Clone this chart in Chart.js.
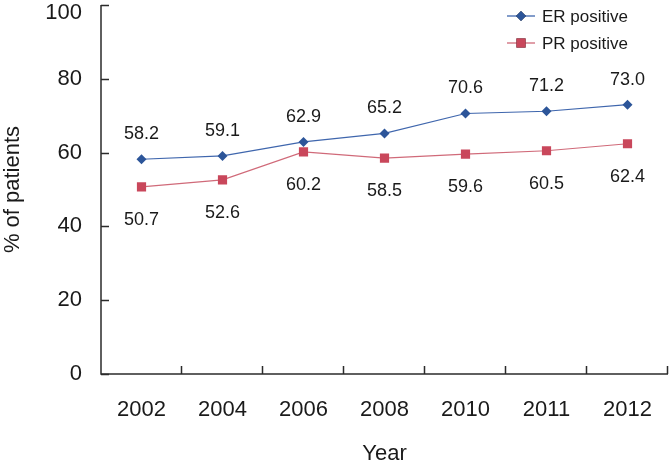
<!DOCTYPE html>
<html>
<head>
<meta charset="utf-8">
<script src="https://cdn.jsdelivr.net/npm/chart.js@4/dist/chart.umd.min.js"></script>
<style>
html,body{margin:0;padding:0;background:#fff;}
#wrap{width:669px;height:463px;position:relative;}
</style>
</head>
<body>
<div id="wrap"><canvas id="c" width="669" height="463"></canvas></div>
<script>
const years = ['2002','2004','2006','2008','2010','2011','2012'];
const erPositive = [58.2, 59.1, 62.9, 65.2, 70.6, 71.2, 73.0];
const prPositive = [50.7, 52.6, 60.2, 58.5, 59.6, 60.5, 62.4];
const seriesNames = ['ER positive', 'PR positive'];
const yTicks = [0, 20, 40, 60, 80, 100];

const FONT = "'Liberation Sans', Arial, sans-serif";
const AXIS = '#2b2b2b';
const TEXT = '#1a1a1a';

const frame = {
  id: 'frame',
  afterDatasetsDraw(chart) {
    const ctx = chart.ctx;
    const x = chart.scales.x, y = chart.scales.y;
    const a = chart.chartArea;
    ctx.save();
    ctx.strokeStyle = AXIS;
    ctx.lineWidth = 1.5;
    ctx.beginPath();
    ctx.moveTo(a.left, a.top);
    ctx.lineTo(a.left, a.bottom);
    ctx.lineTo(a.right, a.bottom);
    ctx.stroke();
    ctx.beginPath();
    yTicks.forEach(v => {
      const py = Math.round(y.getPixelForValue(v)) + 0.5;
      ctx.moveTo(a.left, py);
      ctx.lineTo(a.left + 8, py);
    });
    for (let i = 0; i < years.length; i++) {
      const px = Math.round(x.getPixelForValue(i + 0.5)) - 0.5;
      ctx.moveTo(px, a.bottom);
      ctx.lineTo(px, a.bottom - 8);
    }
    ctx.stroke();
    ctx.fillStyle = TEXT;
    ctx.font = '22px ' + FONT;
    ctx.textAlign = 'right';
    ctx.textBaseline = 'middle';
    yTicks.forEach(v => {
      let py = y.getPixelForValue(v);
      py = Math.max(py, 13);
      ctx.fillText(String(v), a.left - 19, py);
    });
    ctx.font = '18px ' + FONT;
    ctx.textAlign = 'center';
    ctx.textBaseline = 'middle';
    chart.data.datasets.forEach((ds, di) => {
      const meta = chart.getDatasetMeta(di);
      meta.data.forEach((pt, i) => {
        const off = di === 0 ? -25 : 33;
        ctx.fillText(ds.data[i].toFixed(1), pt.x, pt.y + off);
      });
    });
    ctx.font = '17px ' + FONT;
    ctx.textAlign = 'left';
    chart.data.datasets.forEach((ds, di) => {
      const ly = 16 + di * 27;
      const lx0 = a.right - 161;
      ctx.strokeStyle = ds.borderColor;
      ctx.lineWidth = 1.3;
      ctx.beginPath();
      ctx.moveTo(lx0, ly);
      ctx.lineTo(lx0 + 28, ly);
      ctx.stroke();
      Chart.helpers.drawPoint(ctx, {
        pointStyle: ds.pointStyle,
        radius: ds.pointRadius,
        borderWidth: 0,
        rotation: 0
      }, lx0 + 14, ly);
      ctx.fillStyle = ds.pointBackgroundColor;
      ctx.fill();
      ctx.fillStyle = TEXT;
      ctx.fillText(ds.label, lx0 + 35, ly + 1);
    });
    ctx.restore();
  }
};

new Chart(document.getElementById('c'), {
  type: 'line',
  data: {
    labels: years,
    datasets: [
      {
        label: seriesNames[0],
        data: erPositive,
        borderColor: '#3f66ad',
        borderWidth: 1.2,
        pointStyle: 'rectRot',
        pointRadius: 5,
        pointBackgroundColor: '#2c5599',
        pointBorderWidth: 0,
        tension: 0
      },
      {
        label: seriesNames[1],
        data: prPositive,
        borderColor: '#d06a79',
        borderWidth: 1.2,
        pointStyle: 'rect',
        pointRadius: 6.5,
        pointBackgroundColor: '#c9475b',
        pointBorderWidth: 0,
        tension: 0
      }
    ]
  },
  options: {
    responsive: false,
    animation: false,
    devicePixelRatio: 1,
    layout: { autoPadding: false, padding: { top: 5, right: 1, left: 0, bottom: 0 } },
    plugins: { legend: { display: false }, tooltip: { enabled: false } },
    scales: {
      x: {
        type: 'category',
        offset: true,
        border: { display: false },
        grid: { display: false, offset: true },
        ticks: {
          color: TEXT,
          font: { family: FONT, size: 22 },
          padding: 15,
          maxRotation: 0,
          autoSkip: false
        },
        title: {
          display: true,
          text: 'Year',
          color: TEXT,
          font: { family: FONT, size: 22, lineHeight: 1 },
          padding: { top: 0, bottom: -2 }
        },
        afterFit(s) { s.height = 89; s.paddingLeft = 0; s.paddingRight = 0; }
      },
      y: {
        min: 0,
        max: 100,
        border: { display: false },
        grid: { display: false },
        ticks: {
          stepSize: 20,
          color: 'rgba(0,0,0,0)',
          font: { family: FONT, size: 22 }
        },
        title: {
          display: true,
          text: '% of patients',
          color: TEXT,
          font: { family: FONT, size: 22 },
          padding: { top: 0, bottom: 0 }
        },
        afterFit(s) { s.width = 101; s.paddingTop = 0; s.paddingBottom = 0; }
      }
    }
  },
  plugins: [frame]
});
</script>
</body>
</html>
